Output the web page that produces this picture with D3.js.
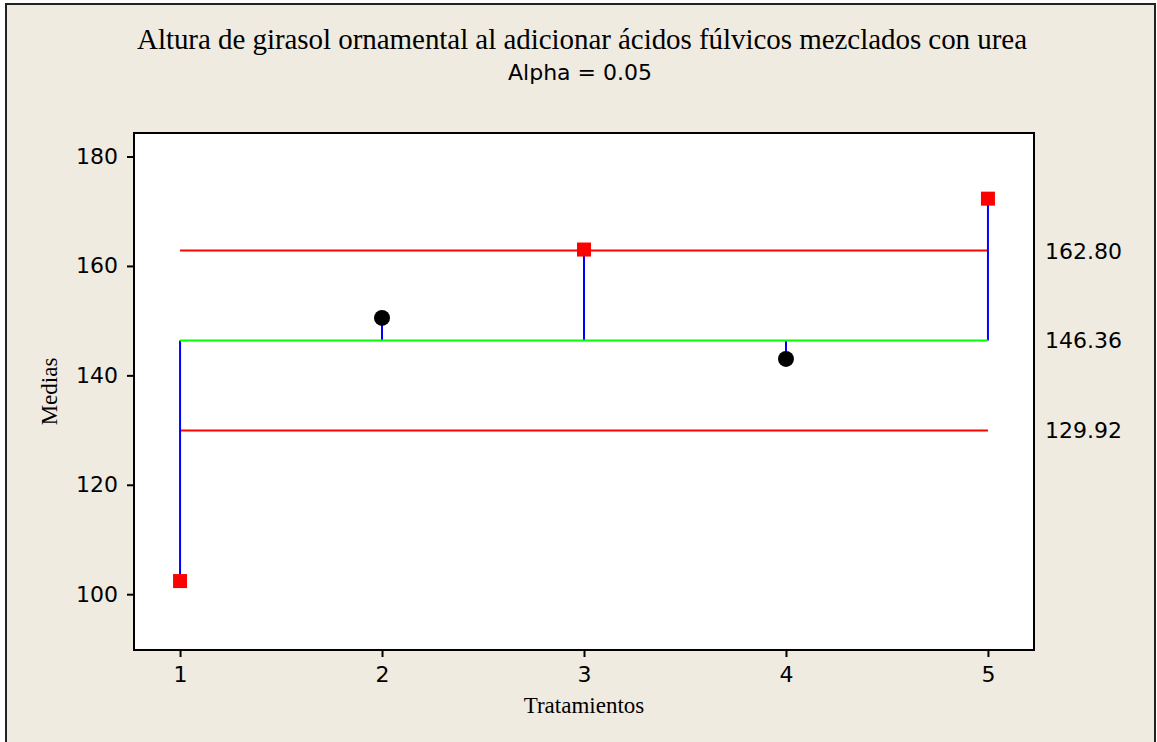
<!DOCTYPE html>
<html>
<head>
<meta charset="utf-8">
<script src="https://cdn.jsdelivr.net/npm/d3@7"></script>
<style>
  html, body { margin: 0; padding: 0; background: #ffffff; }
  svg { display: block; }
</style>
</head>
<body>
<div id="chart"></div>
<script>
// Analysis of means: treatment means against the grand mean and decision limits
const treatments = [1, 2, 3, 4, 5];
const means = [102.4, 150.5, 163.0, 143.0, 172.3];
const centerLine = 146.36;
const upperLimit = 162.80;
const lowerLimit = 129.92;
const yTicks = [100, 120, 140, 160, 180];
const limitLabels = ["162.80", "146.36", "129.92"];

const W = 1157, H = 742;
const plot = { left: 134, right: 1034, top: 133, bottom: 650 };

const svg = d3.select("#chart").append("svg")
  .attr("width", W).attr("height", H);

// page background with outer frame
svg.append("rect")
  .attr("x", 6).attr("y", 4)
  .attr("width", 1149).attr("height", 745)
  .attr("fill", "#efebe1")
  .attr("stroke", "#222").attr("stroke-width", 2);

const x = d3.scaleLinear().domain([0.772, 5.228]).range([plot.left, plot.right]);
const y = d3.scaleLinear().domain([89.8, 184.3]).range([plot.bottom, plot.top]);

// plot area
svg.append("rect")
  .attr("x", plot.left).attr("y", plot.top)
  .attr("width", plot.right - plot.left).attr("height", plot.bottom - plot.top)
  .attr("fill", "#ffffff");

const sans = "'DejaVu Sans', Verdana, sans-serif";
const serif = "'Liberation Serif', 'Times New Roman', serif";

// axes
const yAxis = svg.append("g")
  .attr("transform", `translate(${plot.left},0)`)
  .call(d3.axisLeft(y).tickValues(yTicks).tickSize(7).tickPadding(9));
const xAxis = svg.append("g")
  .attr("transform", `translate(0,${plot.bottom})`)
  .call(d3.axisBottom(x).tickValues(treatments).tickSize(7).tickPadding(9).tickFormat(d3.format("d")));

[yAxis, xAxis].forEach(g => {
  g.select(".domain").remove();
  g.selectAll(".tick line").attr("stroke", "#000").attr("stroke-width", 2);
  g.selectAll(".tick text").attr("fill", "#000")
    .style("font-family", sans).style("font-size", "22px");
});

// decision limits and center line
const xStart = x(treatments[0]), xEnd = x(treatments[treatments.length - 1]);
[upperLimit, lowerLimit].forEach(v => {
  svg.append("line")
    .attr("x1", xStart).attr("x2", xEnd)
    .attr("y1", y(v)).attr("y2", y(v))
    .attr("stroke", "#ff0000").attr("stroke-width", 2);
});

// stems from center line to each mean
svg.append("g").selectAll("line")
  .data(treatments)
  .join("line")
  .attr("x1", d => x(d)).attr("x2", d => x(d))
  .attr("y1", y(centerLine))
  .attr("y2", (d, i) => y(means[i]))
  .attr("stroke", "#0000ff").attr("stroke-width", 2);

svg.append("line")
  .attr("x1", xStart).attr("x2", xEnd)
  .attr("y1", y(centerLine)).attr("y2", y(centerLine))
  .attr("stroke", "#00ff00").attr("stroke-width", 2);

// means: red squares beyond the limits, black dots within
const outside = v => v > upperLimit || v < lowerLimit;
const pts = treatments.map((t, i) => ({ t, v: means[i] }));

svg.append("g").selectAll("rect")
  .data(pts.filter(p => outside(p.v)))
  .join("rect")
  .attr("x", p => x(p.t) - 7).attr("y", p => y(p.v) - 7)
  .attr("width", 14).attr("height", 14)
  .attr("fill", "#ff0000");

svg.append("g").selectAll("circle")
  .data(pts.filter(p => !outside(p.v)))
  .join("circle")
  .attr("cx", p => x(p.t)).attr("cy", p => y(p.v))
  .attr("r", 8)
  .attr("fill", "#000");

// plot frame
svg.append("rect")
  .attr("x", plot.left).attr("y", plot.top)
  .attr("width", plot.right - plot.left).attr("height", plot.bottom - plot.top)
  .attr("fill", "none")
  .attr("stroke", "#000").attr("stroke-width", 2);

// limit values on the right
svg.append("g").selectAll("text")
  .data([upperLimit, centerLine, lowerLimit])
  .join("text")
  .attr("x", 1045)
  .attr("y", d => y(d))
  .attr("dy", "0.36em")
  .style("font-family", sans).style("font-size", "22px")
  .attr("fill", "#000")
  .text((d, i) => limitLabels[i]);

// titles
svg.append("text")
  .attr("x", 582).attr("y", 49)
  .attr("text-anchor", "middle")
  .attr("textLength", 890).attr("lengthAdjust", "spacing")
  .style("font-family", serif).style("font-size", "29px")
  .attr("fill", "#000")
  .text("Altura de girasol ornamental al adicionar ácidos fúlvicos mezclados con urea");

svg.append("text")
  .attr("x", 580).attr("y", 80)
  .attr("text-anchor", "middle")
  .style("font-family", sans).style("font-size", "22px")
  .attr("fill", "#000")
  .text("Alpha = 0.05");

svg.append("text")
  .attr("x", 584).attr("y", 713)
  .attr("text-anchor", "middle")
  .style("font-family", serif).style("font-size", "23px")
  .attr("fill", "#000")
  .text("Tratamientos");

svg.append("text")
  .attr("transform", `translate(57,${(plot.top + plot.bottom) / 2}) rotate(-90)`)
  .attr("text-anchor", "middle")
  .style("font-family", serif).style("font-size", "23px")
  .attr("fill", "#000")
  .text("Medias");
</script>
</body>
</html>
